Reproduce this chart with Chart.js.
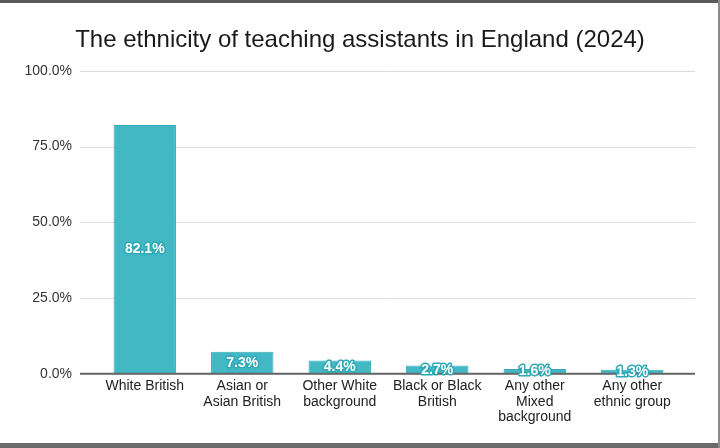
<!DOCTYPE html>
<html>
<head>
<meta charset="utf-8">
<script src="https://cdn.jsdelivr.net/npm/chart.js@4.4.1/dist/chart.umd.min.js"></script>
<style>
    html, body { margin: 0; padding: 0; background: #fff; }
    #wrap { width: 720px; height: 448px; position: relative; }
</style>
</head>
<body>
<div id="wrap"><canvas id="chart-ethnicity" width="720" height="448"></canvas></div>
<script>
// categories and values
const categories = [
    ['White British'],
    ['Asian or', 'Asian British'],
    ['Other White', 'background'],
    ['Black or Black', 'British'],
    ['Any other', 'Mixed', 'background'],
    ['Any other', 'ethnic group']
];
const shares = [82.1, 7.3, 4.4, 2.7, 1.6, 1.3];
const yTicks = [0, 25, 50, 75, 100];

const barColor = '#41b8c4';
const fontFamily = '"Liberation Sans", Arial, sans-serif';

// white card with dark screenshot frame
const framePlugin = {
    id: 'frame',
    beforeDraw(chart) {
        const ctx = chart.ctx;
        ctx.save();
        ctx.fillStyle = '#fff';
        ctx.fillRect(0, 0, chart.width, chart.height);
        ctx.fillStyle = '#5a5a5a';
        ctx.fillRect(0, 0, chart.width, 3);
        ctx.fillStyle = '#6a6a6a';
        ctx.fillRect(0, chart.height - 5, chart.width, 5);
        ctx.fillStyle = '#8a8a8a';
        ctx.fillRect(chart.width - 2, 0, 2, chart.height);
        ctx.restore();
    }
};

// grid lines run a bit wider than the bars area
const gridPlugin = {
    id: 'wideGrid',
    beforeDatasetsDraw(chart) {
        const ctx = chart.ctx;
        const y = chart.scales.y;
        const area = chart.chartArea;
        ctx.save();
        yTicks.forEach(t => {
            const py = Math.round(y.getPixelForValue(t)) + 0.5;
            ctx.beginPath();
            ctx.moveTo(area.left - 16, py);
            ctx.lineTo(area.right + 14, py);
            ctx.strokeStyle = '#dcdcdc';
            ctx.lineWidth = 1;
            ctx.stroke();
        });
        ctx.restore();
    },
    afterDatasetsDraw(chart) {
        const ctx = chart.ctx;
        const y = chart.scales.y;
        const area = chart.chartArea;
        const py = y.getPixelForValue(0);
        ctx.save();
        ctx.beginPath();
        ctx.moveTo(area.left - 16, py);
        ctx.lineTo(area.right + 14, py);
        ctx.strokeStyle = '#666';
        ctx.lineWidth = 2;
        ctx.stroke();
        ctx.restore();
    }
};

// value labels centred in each bar, white with teal outline
const valueLabelPlugin = {
    id: 'valueLabels',
    afterDraw(chart) {
        const ctx = chart.ctx;
        const meta = chart.getDatasetMeta(0);
        ctx.save();
        ctx.font = 'bold 14px ' + fontFamily;
        ctx.textAlign = 'center';
        ctx.textBaseline = 'middle';
        meta.data.forEach((bar, i) => {
            const text = shares[i].toFixed(1) + '%';
            const cy = (bar.y + bar.base) / 2;
            ctx.lineWidth = 3;
            ctx.strokeStyle = '#2fa9b5';
            ctx.lineJoin = 'round';
            ctx.strokeText(text, bar.x, cy);
            ctx.fillStyle = '#fff';
            ctx.fillText(text, bar.x, cy);
        });
        ctx.restore();
    }
};

new Chart(document.getElementById('chart-ethnicity'), {
    type: 'bar',
    data: {
        labels: categories,
        datasets: [{
            data: shares,
            backgroundColor: barColor,
            borderColor: '#35aab6',
            borderWidth: 1,
            barPercentage: 0.64,
            categoryPercentage: 1
        }]
    },
    options: {
        responsive: false,
        animation: false,
        devicePixelRatio: 1,
        layout: {
            padding: { left: 0, right: 0, top: 0, bottom: 18 }
        },
        plugins: {
            legend: { display: false },
            tooltip: { enabled: false },
            title: {
                display: true,
                text: 'The ethnicity of teaching assistants in England (2024)',
                color: '#1a1a1a',
                font: { family: fontFamily, size: 24, weight: 'normal' },
                padding: { top: 26, bottom: 16 }
            }
        },
        scales: {
            x: {
                grid: { display: false, drawTicks: false },
                border: { display: false },
                ticks: {
                    color: '#222',
                    font: { family: fontFamily, size: 14, lineHeight: 1.1 },
                    padding: 5,
                    maxRotation: 0,
                    autoSkip: false
                }
            },
            y: {
                min: 0,
                max: 100,
                afterBuildTicks(scale) {
                    scale.ticks = yTicks.map(v => ({ value: v }));
                },
                afterFit(scale) {
                    scale.width = 96;
                },
                grid: { display: false, drawTicks: false },
                border: { display: false },
                ticks: {
                    color: '#333',
                    font: { family: fontFamily, size: 14 },
                    padding: 24,
                    callback: v => v.toFixed(1) + '%'
                }
            },
            // empty right margin axis so the title stays centred on the card
            yRight: {
                position: 'right',
                min: 0,
                max: 100,
                afterFit(scale) {
                    scale.width = 39;
                },
                grid: { display: false, drawTicks: false },
                border: { display: false },
                ticks: { display: false }
            }
        }
    },
    plugins: [framePlugin, gridPlugin, valueLabelPlugin]
});
</script>
</body>
</html>
